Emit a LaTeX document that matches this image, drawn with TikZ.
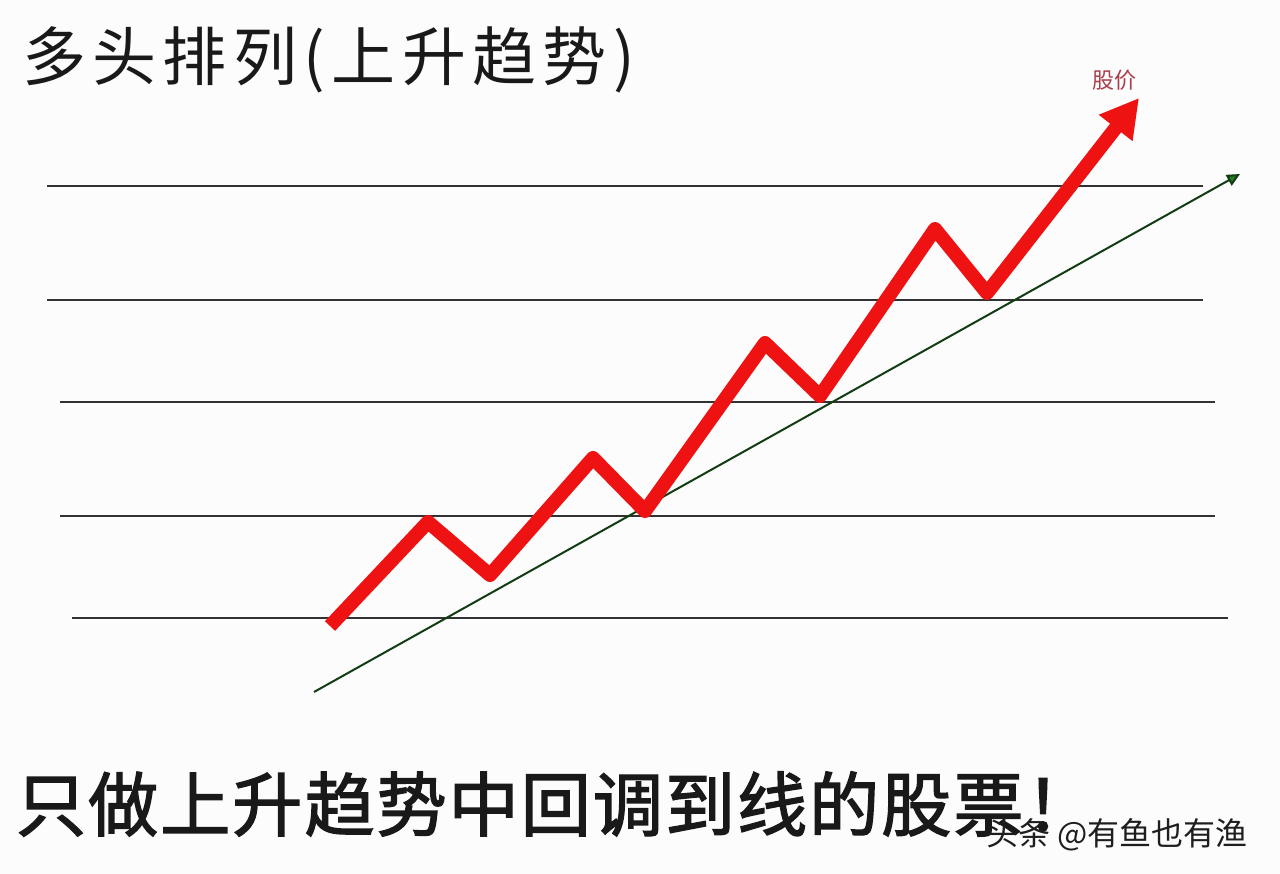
\documentclass[tikz,border=0pt]{standalone}
\usepackage{fontspec}
\usetikzlibrary{arrows.meta}
\newfontfamily\cjk{Noto Sans CJK SC}
\newfontfamily\cjktitle[LetterSpace=10]{Noto Sans CJK SC}
\newfontfamily\cjkbig[LetterSpace=3,FakeBold=2]{Noto Sans CJK SC}
\definecolor{bgc}{RGB}{252,252,253}
\definecolor{gridc}{RGB}{50,50,50}
\definecolor{pricered}{RGB}{238,18,18}
\definecolor{trendline}{RGB}{18,60,18}
\definecolor{trendtip}{RGB}{40,125,40}
\definecolor{labelred}{RGB}{170,60,75}
\definecolor{textc}{RGB}{25,25,25}
\definecolor{markc}{RGB}{30,30,30}
\tikzset{
  gridline/.style={draw=gridc, line width=1.5pt},
  pricepath/.style={draw=pricered, line width=14pt, line join=round,
    -{Triangle[length=38pt,width=40pt]}},
  trendpath/.style={draw=trendline, line width=2pt,
    -{Triangle[length=13pt,width=12pt,fill=trendtip]}},
  titletext/.style={inner sep=0pt, text=textc},
}
\begin{document}
\begin{tikzpicture}[x=1pt,y=-1pt]
\useasboundingbox (0,0) rectangle (1280,874);
\fill[bgc] (0,0) rectangle (1280,874);

% horizontal lines
\coordinate (h1l) at (47,186);  \coordinate (h1r) at (1203,186);
\coordinate (h2l) at (47,300);  \coordinate (h2r) at (1203,300);
\coordinate (h3l) at (60,402);  \coordinate (h3r) at (1215,402);
\coordinate (h4l) at (60,516);  \coordinate (h4r) at (1215,516);
\coordinate (h5l) at (72,618);  \coordinate (h5r) at (1228,618);
\foreach \i in {1,...,5} \draw[gridline] (h\i l) -- (h\i r);

% trend line
\coordinate (t0) at (314,692);
\coordinate (t1) at (1240,174);
\draw[trendpath] (t0) -- (t1);

% price zigzag
\coordinate (p0) at (330,626);
\coordinate (p1) at (428,522);
\coordinate (p2) at (490,575);
\coordinate (p3) at (593,458);
\coordinate (p4) at (645,511);
\coordinate (p5) at (765,343);
\coordinate (p6) at (820,396);
\coordinate (p7) at (935,229);
\coordinate (p8) at (987,293);
\coordinate (p9) at (1139,98);
\draw[pricepath] (p0) -- (p1) -- (p2) -- (p3) -- (p4) -- (p5) -- (p6) -- (p7) -- (p8) -- (p9);

% texts
\node[titletext, anchor=west] (title) at (22,60)
  {\cjktitle\fontsize{64}{64}\selectfont 多头排列(上升趋势)};
\node[inner sep=0pt, text=labelred] (price) at (1114,80)
  {\cjk\fontsize{22}{22}\selectfont 股价};
\node[titletext, anchor=west] (slogan) at (16,804)
  {\cjkbig\fontsize{70}{70}\selectfont 只做上升趋势中回调到线的股票！};
\node[inner sep=0pt, anchor=west, text=markc] (mark) at (986,835)
  {\cjk\fontsize{32}{32}\selectfont 头条 @有鱼也有渔};
\end{tikzpicture}
\end{document}
